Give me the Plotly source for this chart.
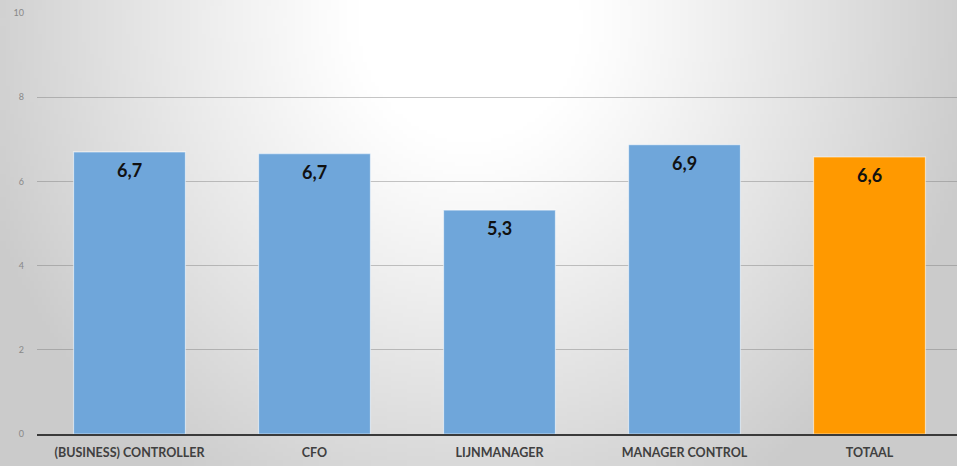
import base64, struct, zlib
import numpy as np
import plotly.graph_objects as go

categories = ["(BUSINESS) CONTROLLER", "CFO", "LIJNMANAGER", "MANAGER CONTROL", "TOTAAL"]
values = [6.70, 6.66, 5.32, 6.87, 6.58]
colors = ["#6fa6da", "#6fa6da", "#6fa6da", "#6fa6da", "#ff9900"]
y_ticks = [0, 2, 4, 6, 8, 10]

W, H = 962, 466

# radial gradient background as PNG
def make_bg(w=240, h=117):
    xs = np.linspace(0, W, w)
    ys = np.linspace(0, H, h)
    X, Y = np.meshgrid(xs, ys)
    d = np.sqrt(((X - 470) / 520) ** 2 + ((Y - 20) / 560) ** 2)
    t = np.clip((d - 0.22) / 0.78, 0, 1)
    v = 255 - 52 * t ** 1.1
    v = np.clip(v, 0, 255).astype(np.uint8)
    raw = b"".join(b"\x00" + bytes(np.stack([row, row, row], axis=1).ravel()) for row in v)
    def chunk(tag, data):
        c = struct.pack(">I", len(data)) + tag + data
        return c + struct.pack(">I", zlib.crc32(tag + data) & 0xffffffff)
    png = b"\x89PNG\r\n\x1a\n" + chunk(b"IHDR", struct.pack(">IIBBBBB", w, h, 8, 2, 0, 0, 0)) \
        + chunk(b"IDAT", zlib.compress(raw, 9)) + chunk(b"IEND", b"")
    return "data:image/png;base64," + base64.b64encode(png).decode()

fig = go.Figure()
fig.add_trace(go.Bar(
    x=categories, y=values,
    marker=dict(color=colors, line=dict(color="rgba(255,255,255,0.55)", width=1.2)),
    hoverinfo="skip",
))

for c, v in zip(categories, values):
    fig.add_annotation(
        x=c, y=v, text=("%.1f" % v).replace(".", ","),
        showarrow=False, yanchor="middle", yshift=-18,
        font=dict(family="Lato", size=18, color="#111111", weight="bold"),
    )

pw = W - 37
ph = H - 13 - 32
fig.update_layout(
    width=W, height=H,
    margin=dict(l=37, r=0, t=13, b=32),
    paper_bgcolor="rgba(0,0,0,0)",
    plot_bgcolor="rgba(0,0,0,0)",
    bargap=0.395,
    showlegend=False,
    images=[dict(source=make_bg(), xref="paper", yref="paper", x=-37 / pw, y=1 + 13 / ph,
                 sizex=W / pw, sizey=H / ph, xanchor="left", yanchor="top",
                 sizing="stretch", layer="below")],
    xaxis=dict(
        showgrid=False, showline=True, linecolor="#3a3a3a", linewidth=1.5,
        tickfont=dict(family="Lato", size=12.5, color="#404040", weight="bold"),
        ticks="", fixedrange=True, ticklabelstandoff=6,
    ),
    yaxis=dict(
        range=[0, 10], tickvals=y_ticks, ticktext=[str(t) for t in y_ticks],
        showgrid=True, gridcolor="rgba(120,120,120,0.42)", gridwidth=1,
        zeroline=False, showline=False, ticks="",
        tickfont=dict(family="Lato", size=9, color="#888888"),
        ticklabelstandoff=12, fixedrange=True,
    ),
)

fig.write_html(
    "out.html",
    config={"displayModeBar": False},
    post_script="document.body.style.margin='0';document.body.style.overflow='hidden';",
)
